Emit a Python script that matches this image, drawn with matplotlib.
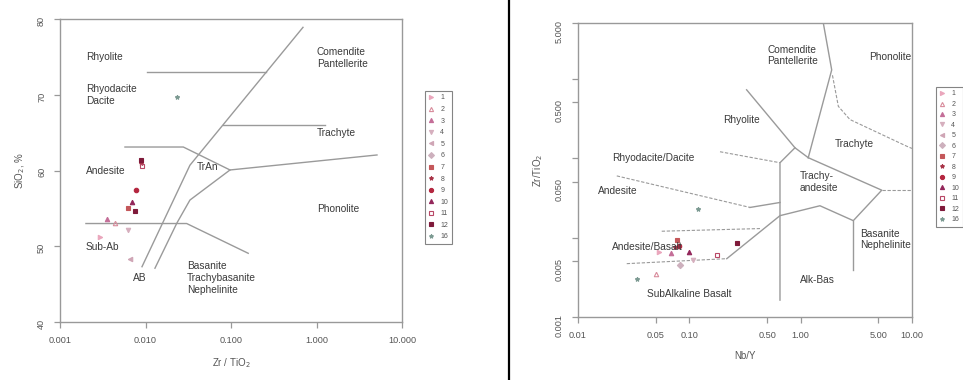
import matplotlib
matplotlib.use("Agg")
import matplotlib.pyplot as plt
from matplotlib.lines import Line2D

plt.rcParams["font.family"] = ["Liberation Sans", "DejaVu Sans"]

# sample groups
groups = ["1", "2", "3", "4", "5", "6", "7", "8", "9", "10", "11", "12", "16"]
group_markers = [">", "^", "^", "v", "<", "D", "s", "*", "o", "^", "s", "s", "*"]
group_colors = ["#eaa6bc", "#d88c9c", "#c46e98", "#d6afbe", "#cfa5b5", "#cdb0bd",
                "#c4575a", "#a83448", "#b4263f", "#93265a", "#b84866", "#7f1a3a", "#7c9a92"]
group_filled = [True, False, True, True, True, True, True, True, True, True, False, True, True]

# left diagram: SiO2 vs Zr/TiO2
left_zr_tio2 = [0.0236, 0.00885, 0.0089, 0.0090, 0.00775, 0.0069, 0.0062, 0.0075,
                0.00355, 0.0044, 0.0063, 0.0029, 0.0066]
left_sio2 = [69.7, 61.4, 61.0, 60.6, 57.4, 55.9, 55.1, 54.6, 53.6, 53.1, 52.1, 51.2, 48.3]
left_group = ["16", "12", "8", "11", "9", "10", "7", "12", "3", "2", "4", "1", "5"]

# right diagram: Zr/TiO2 vs Nb/Y
right_nb_y = [0.12, 0.034, 0.077, 0.074, 0.080, 0.100, 0.108, 0.176, 0.27, 0.053,
              0.069, 0.082, 0.050]
right_zr_tio2 = [0.0228, 0.0030, 0.0092, 0.0075, 0.0078, 0.0065, 0.0052, 0.0060,
                 0.0085, 0.0065, 0.0063, 0.0045, 0.00345]
right_group = ["16", "16", "7", "8", "9", "10", "4", "11", "12", "1", "3", "6", "2"]

# field boundaries, left diagram
l_upper_x = [0.0091, 0.0331, 0.695]
l_upper_y = [47.3, 60.7, 78.9]
l_lower_x = [0.0129, 0.0233, 0.0331, 0.0973, 5.1]
l_lower_y = [47.1, 53.07, 56.1, 60.07, 62.05]
l_subab_x = [0.00201, 0.0303, 0.159]
l_subab_y = [53.0, 53.0, 49.07]
l_andes_x = [0.00575, 0.0277, 0.0973]
l_andes_y = [63.1, 63.1, 60.07]
l_rhyo_x = [0.0103, 0.255]
l_rhyo_y = [73.0, 73.0]
l_trach_x = [0.0813, 1.256]
l_trach_y = [66.0, 66.0]

# field boundaries, right diagram (solid)
r_top_x = [1.597, 1.90, 1.17]
r_top_y = [5.0, 1.285, 0.101]
r_rhyol_x = [0.327, 0.889, 1.17]
r_rhyol_y = [0.722, 0.1346, 0.101]
r_vert_x = [0.889, 0.652, 0.652]
r_vert_y = [0.1346, 0.0873, 0.00163]
r_trand_x = [1.17, 5.35, 2.97, 1.49, 0.652, 0.217]
r_trand_y = [0.101, 0.0394, 0.0163, 0.0251, 0.01884, 0.00542]
r_basan_x = [2.97, 2.97]
r_basan_y = [0.0163, 0.00387]
r_andrd_x = [0.351, 0.652]
r_andrd_y = [0.0239, 0.0276]
# right diagram (dashed)
rd_right_x = [5.35, 10.0]
rd_right_y = [0.0394, 0.0394]
rd_phon_x = [1.93, 2.18, 2.77, 8.95, 10.0]
rd_phon_y = [1.1, 0.447, 0.305, 0.141, 0.132]
rd_andrd_x = [0.0223, 0.351]
rd_andrd_y = [0.0596, 0.0239]
rd_rhrd_x = [0.1886, 0.652]
rd_rhrd_y = [0.12, 0.0873]
rd_abup_x = [0.0565, 0.431]
rd_abup_y = [0.0120, 0.01296]
rd_ablo_x = [0.0274, 0.217]
rd_ablo_y = [0.00469, 0.00542]

line_col = "#9a9a9a"
text_col = "#3a3a3a"
axis_col = "#999999"
fs_field = 7.3

fig = plt.figure(figsize=(9.63, 3.80), dpi=100)
ax1 = fig.add_axes([60 / 963, 1 - 322 / 380, 342 / 963, 303 / 380])
ax2 = fig.add_axes([578 / 963, 1 - 317 / 380, 334 / 963, 294 / 380])


def style(ax):
    for s in ax.spines.values():
        s.set_color(axis_col)
        s.set_linewidth(1.0)
    ax.tick_params(colors=axis_col, labelcolor="#555555", labelsize=6.6,
                   length=4, width=0.9, pad=6, which="both")
    ax.tick_params(axis="y", labelrotation=90)
    ax.minorticks_off()


def draw_points(ax, xs, ys, gs):
    handles = []
    for g, m, c, f in zip(groups, group_markers, group_colors, group_filled):
        px = [x for x, gg in zip(xs, gs) if gg == g]
        py = [y for y, gg in zip(ys, gs) if gg == g]
        fc = c if f else "none"
        ax.plot(px, py, linestyle="none", marker=m, ms=3.2, mfc=fc, mec=c, mew=0.8)
        handles.append(Line2D([], [], linestyle="none", marker=m, ms=3.0, mfc=fc,
                              mec=c, mew=0.8))
    return handles


# ---- left diagram ----
for xs, ys in [(l_upper_x, l_upper_y), (l_lower_x, l_lower_y), (l_subab_x, l_subab_y),
               (l_andes_x, l_andes_y), (l_rhyo_x, l_rhyo_y), (l_trach_x, l_trach_y)]:
    ax1.plot(xs, ys, color=line_col, lw=1.0)

h1 = draw_points(ax1, left_zr_tio2, left_sio2, left_group)

ax1.set_xscale("log")
ax1.set_xlim(0.001, 10)
ax1.set_ylim(40, 80)
ax1.set_xticks([0.001, 0.01, 0.1, 1, 10])
ax1.set_xticklabels(["0.001", "0.010", "0.100", "1.000", "10.000"])
ax1.set_yticks([40, 50, 60, 70, 80])
style(ax1)
ax1.set_xlabel("Zr / TiO$_2$", fontsize=7, color="#555555", labelpad=8)
ax1.set_ylabel("SiO$_2$, %", fontsize=7, color="#555555", labelpad=7)

left_labels = [
    ("Rhyolite", 0.00201, 75.0),
    ("Comendite\nPantellerite", 1.01, 74.85),
    ("Rhyodacite\nDacite", 0.00201, 70.0),
    ("Trachyte", 1.01, 64.95),
    ("Andesite", 0.00201, 59.9),
    ("TrAn", 0.040, 60.5),
    ("Phonolite", 1.01, 54.9),
    ("Sub-Ab", 0.00201, 49.9),
    ("AB", 0.00714, 45.8),
    ("Basanite\nTrachybasanite\nNephelinite", 0.0305, 45.8),
]
for t, x, y in left_labels:
    ax1.text(x, y, t, fontsize=fs_field, color=text_col, ha="left", va="center",
             linespacing=1.2)

# ---- right diagram ----
for xs, ys in [(r_top_x, r_top_y), (r_rhyol_x, r_rhyol_y), (r_vert_x, r_vert_y),
               (r_trand_x, r_trand_y), (r_basan_x, r_basan_y), (r_andrd_x, r_andrd_y)]:
    ax2.plot(xs, ys, color=line_col, lw=1.0)
for xs, ys in [(rd_right_x, rd_right_y), (rd_phon_x, rd_phon_y), (rd_andrd_x, rd_andrd_y),
               (rd_rhrd_x, rd_rhrd_y), (rd_abup_x, rd_abup_y), (rd_ablo_x, rd_ablo_y)]:
    ax2.plot(xs, ys, color=line_col, lw=0.8, linestyle=(0, (3, 1.5)))

h2 = draw_points(ax2, right_nb_y, right_zr_tio2, right_group)

ax2.set_xscale("log")
ax2.set_yscale("log")
ax2.set_xlim(0.01, 10)
ax2.set_ylim(0.001, 5)
ax2.set_xticks([0.01, 0.05, 0.1, 0.5, 1, 5, 10])
ax2.set_xticklabels(["0.01", "0.05", "0.10", "0.50", "1.00", "5.00", "10.00"])
ax2.set_yticks([0.001, 0.005, 0.01, 0.05, 0.1, 0.5, 1, 5])
ax2.set_yticklabels(["0.001", "0.005", "", "0.050", "", "0.500", "", "5.000"])
style(ax2)
ax2.set_xlabel("Nb/Y", fontsize=7, color="#555555", labelpad=8)
ax2.set_ylabel("Zr/TiO$_2$", fontsize=7, color="#555555", labelpad=7)

right_labels = [
    ("Comendite\nPantellerite", 0.499, 1.94),
    ("Phonolite", 4.1, 1.88),
    ("Rhyolite", 0.20, 0.30),
    ("Trachyte", 2.03, 0.15),
    ("Rhyodacite/Dacite", 0.0202, 0.10),
    ("Andesite", 0.0151, 0.0387),
    ("Trachy-\nandesite", 0.986, 0.050),
    ("Basanite\nNephelinite", 3.41, 0.0094),
    ("Andesite/Basalt", 0.0202, 0.0077),
    ("Alk-Bas", 0.986, 0.0029),
    ("SubAlkaline Basalt", 0.0417, 0.00194),
]
for t, x, y in right_labels:
    ax2.text(x, y, t, fontsize=fs_field, color=text_col, ha="left", va="center",
             linespacing=1.2, clip_on=True)

# legends
for h, anchor, sp in [(h1, (425 / 963, 1 - 91 / 380), 0.66),
                      (h2, (936 / 963, 1 - 87 / 380), 0.5)]:
    leg = fig.legend(h, groups, loc="upper left", bbox_to_anchor=anchor,
                     bbox_transform=fig.transFigure, fontsize=5, frameon=True,
                     fancybox=False, edgecolor="#666666", handlelength=0.8,
                     handletextpad=0.9, labelspacing=sp, borderpad=0.5,
                     borderaxespad=0)
    leg.get_frame().set_linewidth(0.8)
    for t in leg.get_texts():
        t.set_color("#555555")

# divider between the two diagrams
fig.add_artist(Line2D([509 / 963, 509 / 963], [0, 1], color="black", lw=1.6,
                      transform=fig.transFigure))

fig.savefig("out.png", dpi=100)
